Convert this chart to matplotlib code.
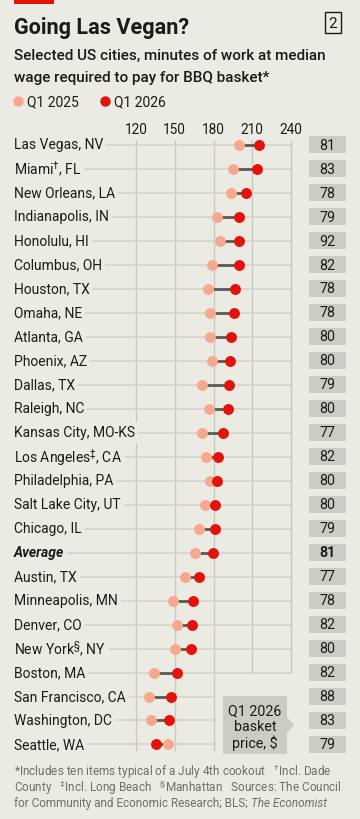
import numpy as np
import matplotlib
matplotlib.use("Agg")
import matplotlib.pyplot as plt
from matplotlib import transforms
from matplotlib.patches import Rectangle, Polygon

plt.rcParams['font.family'] = ['Roboto', 'DejaVu Sans']
plt.rcParams['mathtext.fontset'] = 'custom'
plt.rcParams['mathtext.rm'] = 'Roboto'
plt.rcParams['mathtext.it'] = 'Roboto:italic'
plt.rcParams['mathtext.bf'] = 'Roboto:bold'

# ---------------- data ----------------
cities = ["Las Vegas, NV", "Miami$^{\\dagger}$, FL", "New Orleans, LA", "Indianapolis, IN",
          "Honolulu, HI", "Columbus, OH", "Houston, TX", "Omaha, NE", "Atlanta, GA",
          "Phoenix, AZ", "Dallas, TX", "Raleigh, NC", "Kansas City, MO-KS",
          "Los Angeles$^{\\ddagger}$, CA", "Philadelphia, PA", "Salt Lake City, UT",
          "Chicago, IL", "Average", "Austin, TX", "Minneapolis, MN", "Denver, CO",
          "New York$^{\\S}$, NY", "Boston, MA", "San Francisco, CA", "Washington, DC",
          "Seattle, WA"]
q1_2025 = [200, 195, 193.5, 183, 185, 179, 176, 177.5, 177.5,
           179, 171, 176.5, 171, 174.5, 177, 173.5,
           169, 166, 158, 148.5, 151.5, 150.5, 134, 130, 131.5, 144.5]
q1_2026 = [215.5, 214, 205, 200, 200, 200, 197, 196, 193.5,
           193, 192, 191, 187.5, 183.5, 183, 181,
           181, 179.5, 169, 164, 163.5, 162.5, 152, 147, 145.5, 135.5]
price = [81, 83, 78, 79, 92, 82, 78, 78, 80, 80, 79, 80, 77, 82, 80, 80, 79,
         81, 77, 78, 82, 80, 82, 88, 83, 79]
ticks = [120, 150, 180, 210, 240]

# ---------------- style ----------------
W, H = 360, 820
BG = "#ecebe3"
RED = "#e3120b"
LIGHT = "#f6a98c"
BOXG = "#cdccc4"
GRID = "#c9c8c0"
ROWL = "#d6d5cd"
TXT = "#1a1a1a"
GRAY = "#6e6e6e"

fig = plt.figure(figsize=(W / 100, H / 100), dpi=100, facecolor=BG)

def fx(x):
    return x / W

def fy(y):
    return 1 - y / H

# axes spanning full width; map value 120 -> 136px, 240 -> 291px
k = 155 / 120.0
v0 = 120 - 136 / k
v1 = 120 + (W - 136) / k
row0, rstep = 145.5, 24.0
ytop_px, ybot_px = 120, 762
ax = fig.add_axes([0, fy(ybot_px), 1, (ybot_px - ytop_px) / H])
ax.set_xlim(v0, v1)
ax.set_ylim((ybot_px - row0) / rstep, (ytop_px - row0) / rstep)
ax.axis('off')
ax.patch.set_alpha(0)

def px2v(x):
    return v0 + x / k

n = len(cities)
y = np.arange(n)
avg_i = cities.index("Average")
LFS = 10.0

# vertical gridlines
for t in ticks:
    bottom = 25.27 if t <= 180 else 22
    ax.plot([t, t], [-0.2, bottom], color=GRID, lw=1.0, zorder=1, solid_capstyle='butt')
    ax.text(t, (130 - row0) / rstep, str(t), ha='center', va='center',
            fontsize=9.8, color=TXT)

# row lines + labels
for i, c in enumerate(cities):
    end = 180 if i >= 23 else 240
    ax.plot([px2v(14), end], [i, i], color=ROWL, lw=1.3, zorder=1, solid_capstyle='butt')
    if c == "Average":
        ax.text(px2v(14), i, c, ha='left', va='center', fontsize=LFS, color=TXT,
                fontweight='bold', fontstyle='italic', zorder=3,
                bbox=dict(boxstyle='square,pad=0.22', fc=BG, ec='none'))
    else:
        ax.text(px2v(14), i, c, ha='left', va='center', fontsize=LFS, color=TXT, zorder=3,
                bbox=dict(boxstyle='square,pad=0.22', fc=BG, ec='none'))

# dumbbells
for i in range(n):
    ax.plot([q1_2025[i], q1_2026[i]], [i, i], color="#595959", lw=2.0, zorder=4,
            solid_capstyle='butt')
ax.scatter(q1_2025, y, s=62, color=LIGHT, zorder=5, linewidths=0)
ax.scatter(q1_2026, y, s=62, color=RED, zorder=6, linewidths=0)

# price boxes
bt = transforms.blended_transform_factory(fig.transFigure, ax.transData)
bh = 17.5 / rstep
for i, p in enumerate(price):
    ax.add_patch(Rectangle((fx(309), i - bh / 2), fx(346) - fx(309), bh,
                           transform=bt, fc=BOXG, ec='none', zorder=2, clip_on=False))
    ax.text(fx(327.5), i, str(p), transform=bt, ha='center', va='center',
            fontsize=10.3, color=TXT, fontweight='bold' if i == avg_i else 'normal', zorder=3)

# annotation callout
poly = [(223, 697), (287, 697), (287, 718), (294, 726), (287, 734), (287, 755), (223, 755)]
fig.patches.append(Polygon([(fx(a), fy(b)) for a, b in poly], closed=True,
                           transform=fig.transFigure, fc=BOXG, ec='none', zorder=2))
for txt, yy in [("Q1 2026", 711), ("basket", 727), ("price, $", 743)]:
    fig.text(fx(255), fy(yy), txt, ha='center', va='center', fontsize=10.3, color=TXT)

# top red bar
fig.patches.append(Rectangle((fx(14), fy(5)), fx(54) - fx(14), 5 / H,
                             transform=fig.transFigure, fc=RED, ec='none'))

# title
fig.text(fx(14), fy(28), "Going Las Vegan?", ha='left', va='center', fontsize=15.6,
         fontweight='bold', color=TXT)
fig.patches.append(Rectangle((fx(324.5), fy(34)), fx(341) - fx(324.5), 21 / H,
                             transform=fig.transFigure, fc='none', ec=TXT, lw=1.0))
fig.text(fx(332.8), fy(23.5), "2", ha='center', va='center', fontsize=11, color=TXT)

# subtitle
fig.text(fx(14), fy(56), "Selected US cities, minutes of work at median", ha='left',
         va='center', fontsize=10.95, fontweight='medium', color=TXT)
fig.text(fx(14), fy(78), "wage required to pay for BBQ basket*", ha='left',
         va='center', fontsize=10.95, fontweight='medium', color=TXT)

# legend
fig.add_artist(plt.Line2D([fx(17.5)], [fy(102)], marker='o', ms=7.5, color=LIGHT,
                          mew=0, transform=fig.transFigure))
fig.text(fx(27), fy(102), "Q1 2025", ha='left', va='center', fontsize=10.0, color=TXT)
fig.add_artist(plt.Line2D([fx(104.5)], [fy(102)], marker='o', ms=7.5, color=RED,
                          mew=0, transform=fig.transFigure))
fig.text(fx(114), fy(102), "Q1 2026", ha='left', va='center', fontsize=10.0, color=TXT)

# footnote
fs = 8.5
fig.text(fx(14), fy(772), "*Includes ten items typical of a July 4th cookout   $^{\\dagger}$Incl. Dade",
         ha='left', va='center', fontsize=fs, color=GRAY)
fig.text(fx(14), fy(788), "County   $^{\\ddagger}$Incl. Long Beach   $^{\\S}$Manhattan   Sources: The Council",
         ha='left', va='center', fontsize=fs, color=GRAY)
t3 = fig.text(fx(14), fy(804), "for Community and Economic Research; BLS; ",
              ha='left', va='center', fontsize=fs, color=GRAY)
fig.canvas.draw()
bb = t3.get_window_extent()
fig.text(bb.x1 / W + 0.001, fy(804), "The Economist", ha='left', va='center', fontsize=fs,
         color=GRAY, fontstyle='italic')

fig.savefig("out.png", dpi=100, facecolor=BG)
